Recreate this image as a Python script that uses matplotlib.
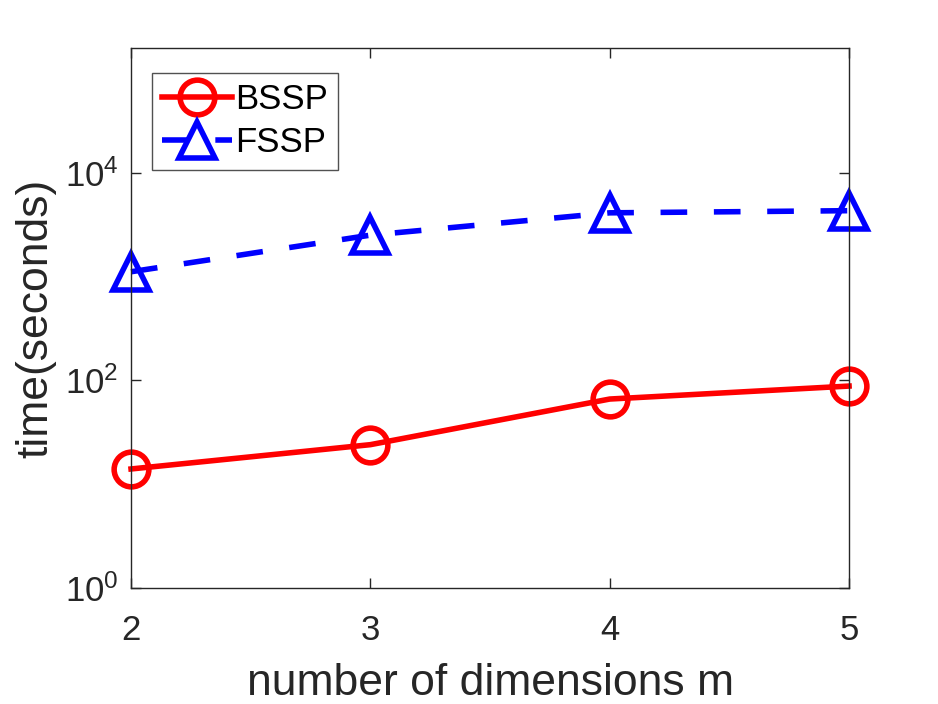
import matplotlib.pyplot as plt
import numpy as np

plt.rcParams['font.family'] = ['Liberation Sans', 'DejaVu Sans']

m = [2, 3, 4, 5]
bssp = [14, 24, 66, 88]
fssp = [1110, 2500, 4100, 4300]

fig = plt.figure(figsize=(9.38, 7.04), dpi=100)
ax = fig.add_axes([0.1397, 0.1648, 0.7655, 0.7670])

ax.plot(m, bssp, '-o', color='r', lw=4, ms=25, mew=4, mfc='none',
        clip_on=False, label='BSSP')
ax.plot(m, fssp, '--^', color='b', lw=4, ms=26, mew=4, mfc='none',
        dashes=(4.8, 4.8), clip_on=False, label='FSSP')

ax.set_yscale('log')
ax.set_xlim(2, 5)
ax.set_ylim(1, 10 ** 5.2)
ax.set_xticks(m)
ax.set_yticks([1, 100, 10000])
ax.yaxis.set_minor_locator(plt.NullLocator())
ax.tick_params(direction='in', top=True, right=True, length=7, width=1,
               labelsize=25, colors='#262626')
ax.tick_params(axis='x', pad=19)
ax.tick_params(axis='y', pad=9)
for s in ax.spines.values():
    s.set_color('#262626')
    s.set_linewidth(1)

ax.set_xlabel('number of dimensions m', fontsize=32, color='#262626', labelpad=11)
ax.set_ylabel('time(seconds)', fontsize=32, color='#262626', labelpad=6)

leg = ax.legend(loc='upper left', fontsize=25, fancybox=False, edgecolor='#262626',
                handlelength=2.0, borderaxespad=0.6, handletextpad=0.1,
                borderpad=0.3, labelspacing=0.3, bbox_to_anchor=(0.0, 0.993))
leg.get_frame().set_linewidth(1)

plt.savefig('out.png')
